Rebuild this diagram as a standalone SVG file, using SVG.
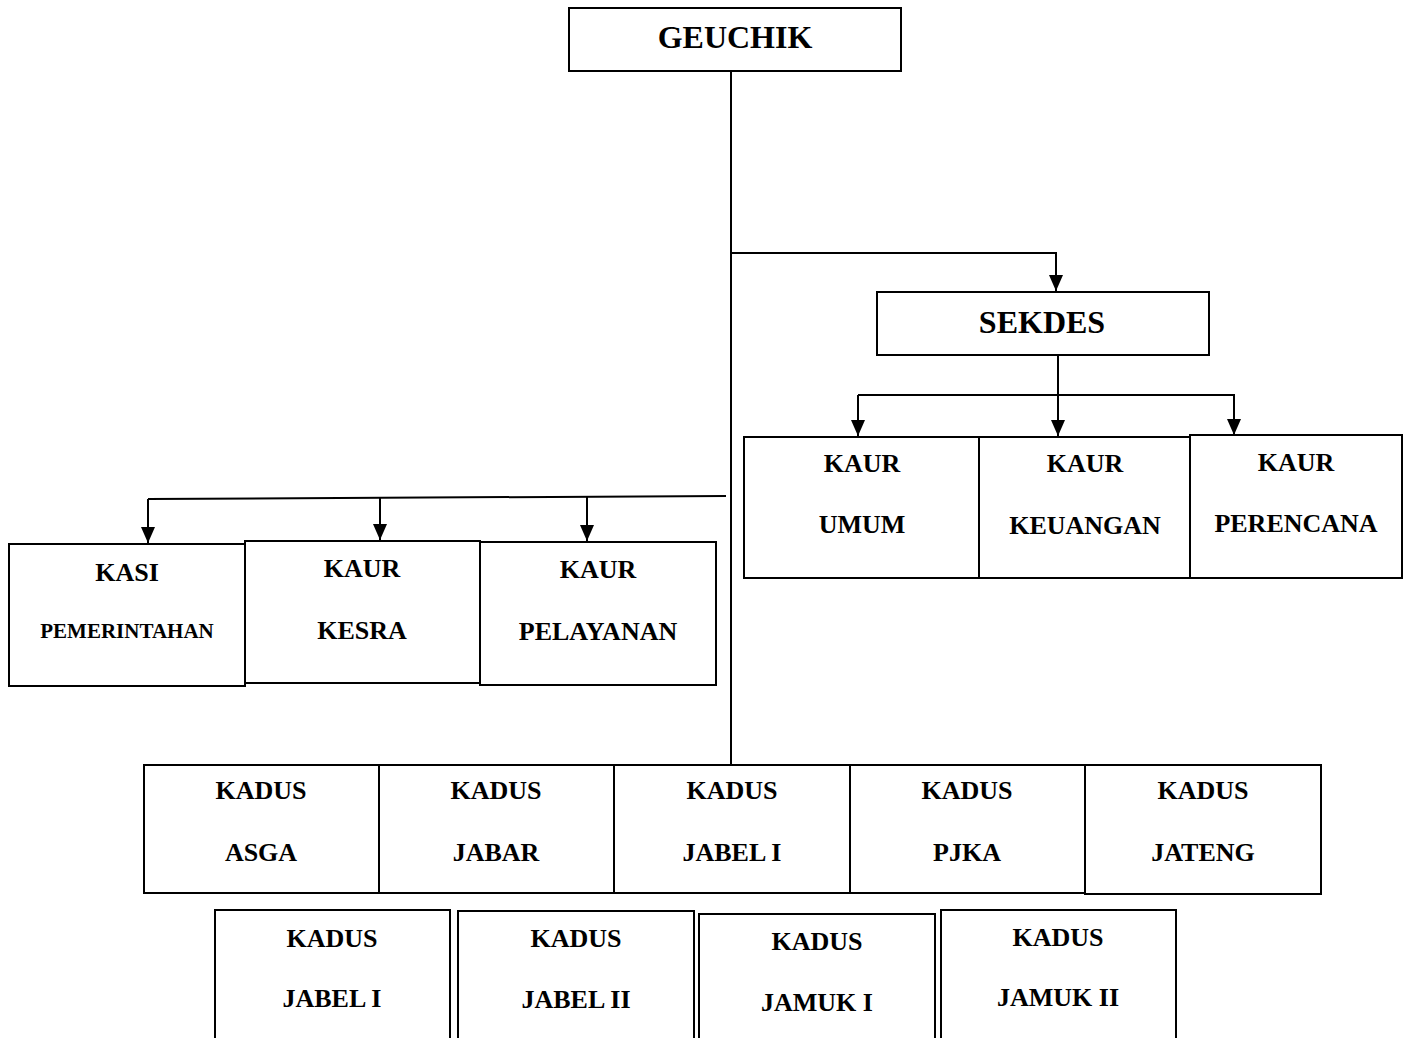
<svg xmlns="http://www.w3.org/2000/svg" width="1411" height="1038" viewBox="0 0 1411 1038">
<style>
rect{fill:#fff;stroke:#000;stroke-width:2}
text{font-family:"Liberation Serif","Times New Roman",serif;font-weight:bold;text-anchor:middle;fill:#000;font-size:26px}
.big{font-size:32px}
.sm{font-size:21px}
.c{fill:none;stroke:#000;stroke-width:2}
</style>
<defs>
<marker id="ah" viewBox="0 0 16 14" refX="16" refY="7" markerWidth="16" markerHeight="14" markerUnits="userSpaceOnUse" orient="auto">
<path d="M0,0 L16,7 L0,14 Z" fill="#000"/>
</marker>
</defs>
<g id="connectors">
<path class="c" d="M731,71 V765"/>
<path class="c" d="M731,253 H1056 V291" marker-end="url(#ah)"/>
<path class="c" d="M1058,355 V436" marker-end="url(#ah)"/>
<path class="c" d="M858,395 H1234 V435" marker-end="url(#ah)"/>
<path class="c" d="M858,395 V436" marker-end="url(#ah)"/>
<path class="c" d="M148,499 L726,496"/>
<path class="c" d="M148,499 V543" marker-end="url(#ah)"/>
<path class="c" d="M380,498 V540" marker-end="url(#ah)"/>
<path class="c" d="M587,497 V541" marker-end="url(#ah)"/>
</g>
<g id="geuchik"><rect x="569" y="8" width="332" height="63"/><text class="big" x="735" y="48">GEUCHIK</text></g>
<g id="sekdes"><rect x="877" y="292" width="332" height="63"/><text class="big" x="1042" y="333">SEKDES</text></g>
<g id="kaur-umum"><rect x="744" y="437" width="235" height="141"/><text x="862" y="472">KAUR</text><text x="862" y="533">UMUM</text></g>
<g id="kaur-keuangan"><rect x="979" y="437" width="211" height="141"/><text x="1085" y="472">KAUR</text><text x="1085" y="534">KEUANGAN</text></g>
<g id="kaur-perencana"><rect x="1190" y="435" width="212" height="143"/><text x="1296" y="471">KAUR</text><text x="1296" y="532">PERENCANA</text></g>
<g id="kasi-pemerintahan"><rect x="9" y="544" width="236" height="142"/><text x="127" y="581">KASI</text><text class="sm" x="127" y="638">PEMERINTAHAN</text></g>
<g id="kaur-kesra"><rect x="245" y="541" width="235" height="142"/><text x="362" y="577">KAUR</text><text x="362" y="639">KESRA</text></g>
<g id="kaur-pelayanan"><rect x="480" y="542" width="236" height="143"/><text x="598" y="578">KAUR</text><text x="598" y="640">PELAYANAN</text></g>
<g id="kadus-asga"><rect x="144" y="765" width="235" height="128"/><text x="261" y="799">KADUS</text><text x="261" y="861">ASGA</text></g>
<g id="kadus-jabar"><rect x="379" y="765" width="235" height="128"/><text x="496" y="799">KADUS</text><text x="496" y="861">JABAR</text></g>
<g id="kadus-jabel1"><rect x="614" y="765" width="236" height="128"/><text x="732" y="799">KADUS</text><text x="732" y="861">JABEL I</text></g>
<g id="kadus-pjka"><rect x="850" y="765" width="235" height="128"/><text x="967" y="799">KADUS</text><text x="967" y="861">PJKA</text></g>
<g id="kadus-jateng"><rect x="1085" y="765" width="236" height="129"/><text x="1203" y="799">KADUS</text><text x="1203" y="861">JATENG</text></g>
<g id="kadus-jabel1b"><rect x="215" y="910" width="235" height="140"/><text x="332" y="947">KADUS</text><text x="332" y="1007">JABEL I</text></g>
<g id="kadus-jabel2"><rect x="458" y="911" width="236" height="140"/><text x="576" y="947">KADUS</text><text x="576" y="1008">JABEL II</text></g>
<g id="kadus-jamuk1"><rect x="699" y="914" width="236" height="140"/><text x="817" y="950">KADUS</text><text x="817" y="1011">JAMUK I</text></g>
<g id="kadus-jamuk2"><rect x="941" y="910" width="235" height="140"/><text x="1058" y="946">KADUS</text><text x="1058" y="1006">JAMUK II</text></g>
</svg>
